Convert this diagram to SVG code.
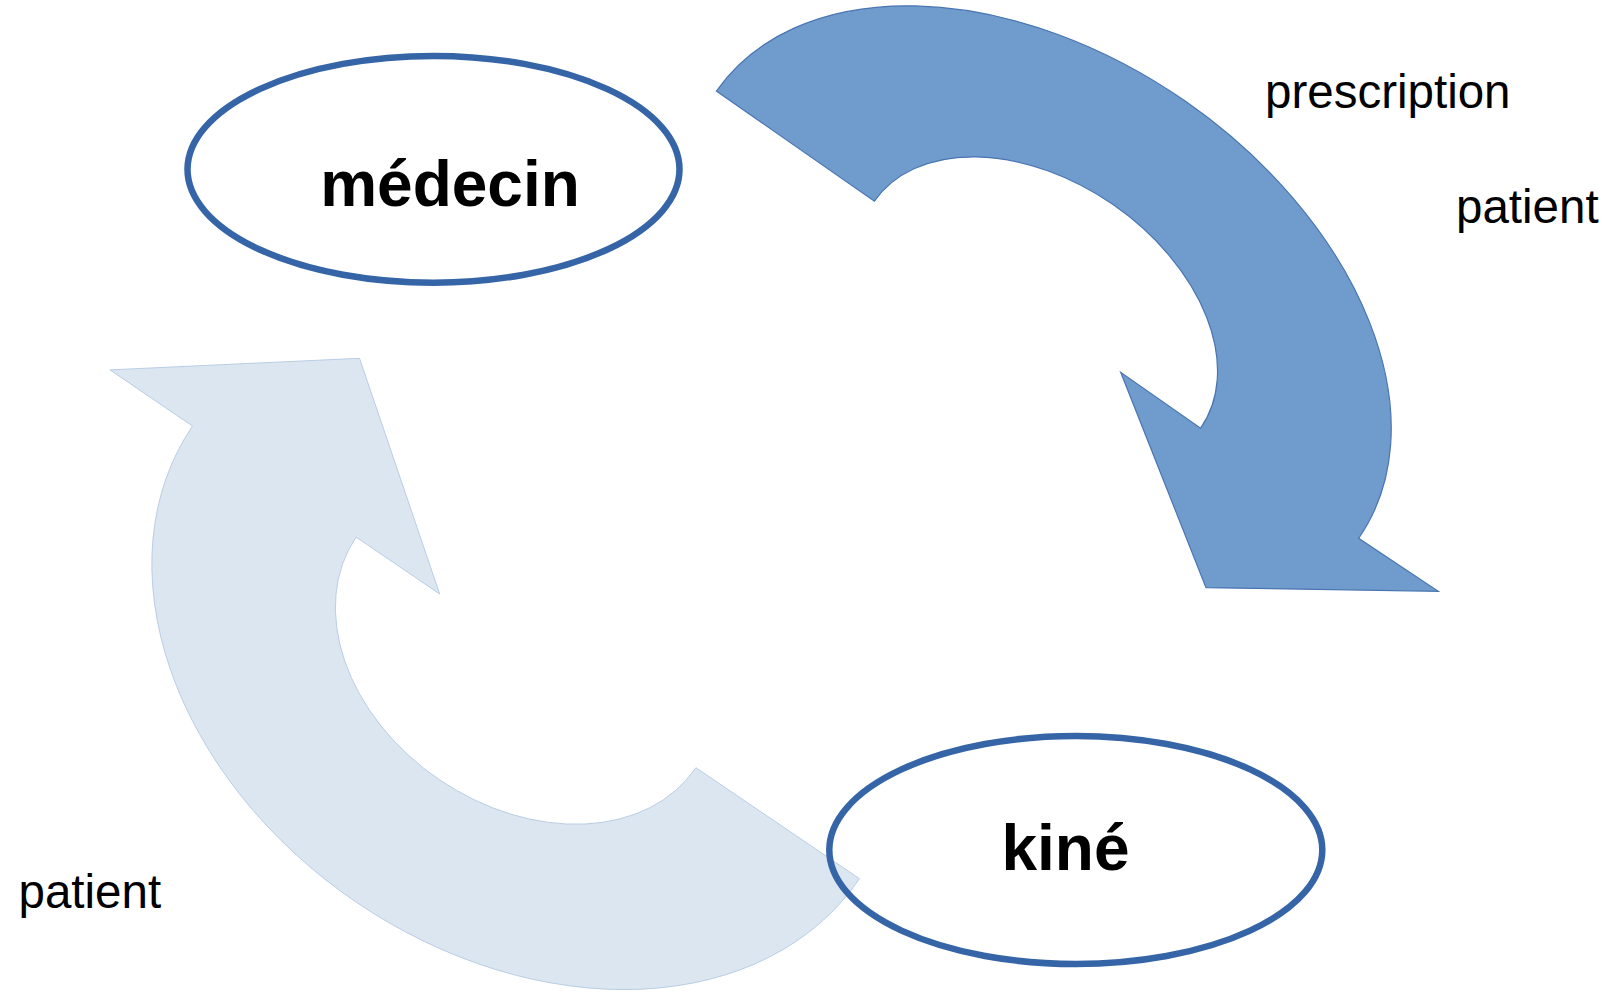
<svg xmlns="http://www.w3.org/2000/svg" width="1615" height="993" viewBox="0 0 1615 993">
<style>
.node{fill:none;stroke:#3565a6;stroke-width:6.5}
.big{font-family:"Liberation Sans",Arial,sans-serif;font-weight:bold;font-size:64px;fill:#000;text-anchor:middle}
.lbl{font-family:"Liberation Sans",Arial,sans-serif;font-size:47.5px;fill:#000}
.arrowDark{fill:#6f9ccd;stroke:#4a75b2;stroke-width:1.2}
.arrowLight{fill:#dce6f1;stroke:#b9cde4;stroke-width:1}
</style>
<rect width="1615" height="993" fill="#fff"/>
<g id="connectors">
<path id="arrow-prescription" class="arrowDark" d="M716.4,91.1 A391.3,259.7 34.85 0 1 1185.9,101.6 A391.3,259.7 34.85 0 1 1358.6,538.3 L1438.3,591.3 L1206,587.7 L1120.7,372.3 L1200.6,428.2 A198.7,133.5 34.85 0 0 1113.8,205.1 A198.7,133.5 34.85 0 0 874.4,201.2 Z"/>
<path id="arrow-patient" class="arrowLight" d="M359.5,358.3 L439.7,594 L356.1,537.1 A205.3,154 34.16 0 0 439.5,779.8 A205.3,154 34.16 0 0 695.9,767.7 L859.5,878.7 A403,302 34.16 0 1 356.4,902.3 A403,302 34.16 0 1 192.5,426.1 L110,369.9 Z"/>
</g>
<g id="node-medecin">
<ellipse class="node" cx="433.5" cy="169.3" rx="246" ry="113.4"/>
<text class="big" x="450" y="205.7">médecin</text>
</g>
<g id="node-kine">
<ellipse class="node" cx="1075.8" cy="850" rx="246.5" ry="114"/>
<text class="big" x="1065.5" y="870">kiné</text>
</g>
<g id="labels">
<text class="lbl" x="1265" y="108">prescription</text>
<text class="lbl" x="1456" y="223">patient</text>
<text class="lbl" x="18.5" y="908">patient</text>
</g>
</svg>
